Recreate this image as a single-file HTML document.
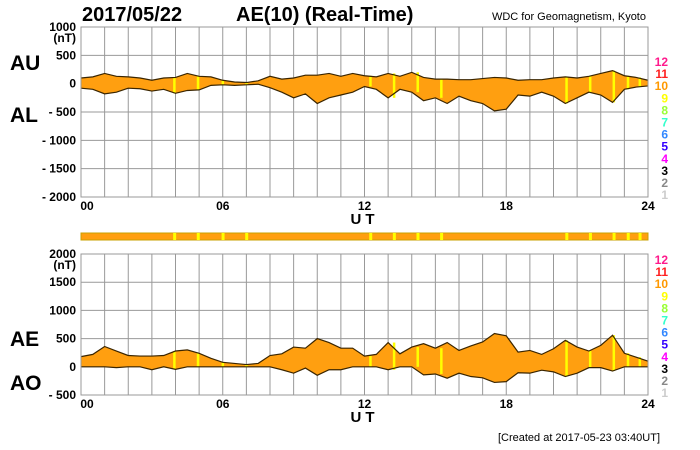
<!DOCTYPE html>
<html><head><meta charset="utf-8"><style>
html,body{margin:0;padding:0;background:#fff;}
svg{display:block;font-family:"Liberation Sans",sans-serif;}
</style></head><body>
<svg id="c" width="700" height="450" viewBox="0 0 700 450"></svg>
<script>
const hours = [0,0.5,1,1.5,2,2.5,3,3.5,4,4.5,5,5.5,6,6.5,7,7.5,8,8.5,9,9.5,10,10.5,11,11.5,12,12.5,13,13.5,14,14.5,15,15.5,16,16.5,17,17.5,18,18.5,19,19.5,20,20.5,21,21.5,22,22.5,23,23.5,24];
const auValues = [100,120,180,130,120,100,60,100,110,180,130,120,60,30,20,50,130,80,100,150,150,180,130,180,140,120,180,130,200,110,80,80,70,70,90,110,100,60,70,70,100,120,100,130,180,230,140,110,60];
const alValues = [-80,-100,-180,-150,-80,-90,-130,-100,-170,-120,-110,-30,-20,-30,-20,-10,-70,-150,-250,-180,-350,-250,-200,-150,-50,-100,-250,-100,-150,-300,-250,-350,-220,-300,-350,-480,-450,-200,-220,-150,-220,-350,-250,-150,-200,-330,-100,-60,-40];
const yellowHours = [3.9,4.9,5.95,6.95,12.2,13.2,14.2,15.2,20.5,21.5,22.5,23.1,23.6];
const xTicks = ["00","06","12","18","24"];
const topYTicks = [1000,500,0,-500,-1000,-1500,-2000];
const botYTicks = [2000,1500,1000,500,0,-500];
const levelLabels = ["12","11","10","9","8","7","6","5","4","3","2","1"];
const levelColors = ["#ff1a8c","#ff2020","#ff9900","#ffff00","#99ff33","#33ffcc","#3388ff","#3300ff","#ff00ff","#000000","#888888","#cccccc"];

const svg = document.getElementById('c');
const NS = 'http://www.w3.org/2000/svg';
function mk(tag, attrs, parent){ const e=document.createElementNS(NS,tag); for(const k in attrs) e.setAttribute(k,attrs[k]); (parent||svg).appendChild(e); return e; }
const X0=81, X1=648;
const xs = h => X0 + (h/24)*(X1-X0);

function panel(name, top, bot, vmax, vmin, ticks, upper, lower, upLabel, loLabel, upY, loY, legTop){
  const ys = v => top + (vmax - v)/(vmax - vmin)*(bot-top);
  const g = mk('g',{});
  
  
  for(let h=0;h<=24;h++){ mk('line',{x1:xs(h),x2:xs(h),y1:top,y2:bot,stroke:'#999','stroke-width':1},g); }
  ticks.forEach(v=>{ mk('line',{x1:X0,x2:X1,y1:ys(v),y2:ys(v),stroke:'#999','stroke-width':1},g);
    const t=mk('text',{x:X0-5,y:ys(v)+4,'text-anchor':'end','font-size':12,'font-weight':'bold'},g);
    t.textContent = v<0 ? '- '+(-v) : String(v);
      });
  const u=mk('text',{x:X0-5,y:ys(ticks[0])+15,'text-anchor':'end','font-size':12,'font-weight':'bold'},g); u.textContent='(nT)';
  let d='M'+hours.map((h,i)=>xs(h)+','+ys(upper[i])).join(' L');
  for(let i=hours.length-1;i>=0;i--) d+=' L'+xs(hours[i])+','+ys(lower[i]);
  const area=mk('path',{d:d+'Z',fill:'#ff9f10',stroke:'none'},g);
  
  yellowHours.forEach(h=>{ const j=Math.min(Math.round(h*2),hours.length-1);
    const r=mk('rect',{x:xs(h),width:2.5,y:ys(upper[j]),height:Math.max(0,ys(lower[j])-ys(upper[j])),fill:'#ffff00'},g);
     });
  const up=mk('polyline',{points:hours.map((h,i)=>xs(h)+','+ys(upper[i])).join(' '),fill:'none',stroke:'#3a2500','stroke-width':1.2},g);
  
  const lo=mk('polyline',{points:hours.map((h,i)=>xs(h)+','+ys(lower[i])).join(' '),fill:'none',stroke:'#3a2500','stroke-width':1.2},g);
  
  mk('rect',{x:X0,y:top,width:X1-X0,height:bot-top,fill:'none',stroke:'#999'},g);
  xTicks.forEach((s,i)=>{ const t=mk('text',{x:xs(i*6)+(i==0?6:0),y:bot+13,'text-anchor':'middle','font-size':12,'font-weight':'bold'},g); t.textContent=s;
      });
  const ut=mk('text',{x:xs(12),y:bot+27,'text-anchor':'middle','font-size':15,'font-weight':'bold','letter-spacing':'4'},g); ut.textContent='UT';
  
  const a=mk('text',{x:10,y:upY,'font-size':21,'font-weight':'bold'},g); a.textContent=upLabel;
  
  const b=mk('text',{x:10,y:loY,'font-size':21,'font-weight':'bold'},g); b.textContent=loLabel;
  
  levelLabels.forEach((s,i)=>{ const t=mk('text',{x:668,y:legTop+i*12.1,'text-anchor':'end','font-size':12,'font-weight':'bold',fill:levelColors[i]},g); t.textContent=s;
      });
}
panel('au-al-panel',27,197,1000,-2000,topYTicks,auValues,alValues,'AU','AL',70,122,66);
const aeValues = auValues.map((v,i)=>v-alValues[i]);
const aoValues = auValues.map((v,i)=>Math.min(0,(v+alValues[i])/2)*1.5);
panel('ae-ao-panel',254,395,2000,-500,botYTicks,aeValues,aoValues,'AE','AO',346,390,264);

const cb=mk('rect',{x:X0,y:233,width:X1-X0,height:7,fill:'#ff9f10',stroke:'#c8a000','stroke-width':1});

yellowHours.forEach(h=>{ const r=mk('rect',{x:xs(h),y:233,width:3,height:7,fill:'#ffff00'});  });

const t1=mk('text',{x:82,y:21,'font-size':20,'font-weight':'bold'}); t1.textContent='2017/05/22';

const t2=mk('text',{x:236,y:21,'font-size':20,'font-weight':'bold'}); t2.textContent='AE(10) (Real-Time)';

const t3=mk('text',{x:646,y:20,'text-anchor':'end','font-size':11}); t3.textContent='WDC for Geomagnetism, Kyoto';

const t4=mk('text',{x:660,y:441,'text-anchor':'end','font-size':11}); t4.textContent='[Created at 2017-05-23 03:40UT]';

</script>
</body></html>
